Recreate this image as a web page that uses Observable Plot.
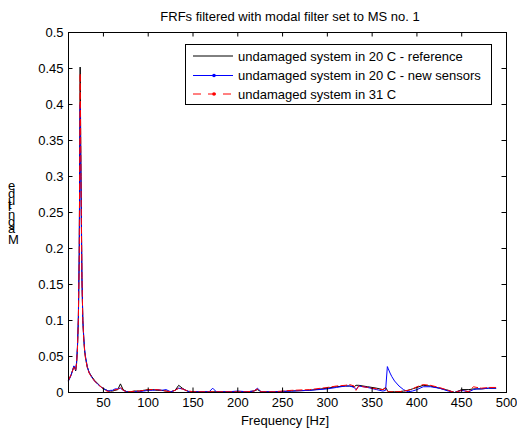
<!DOCTYPE html>
<html>
<head>
<meta charset="utf-8">
<script src="https://cdn.jsdelivr.net/npm/d3@7"></script>
<script src="https://cdn.jsdelivr.net/npm/@observablehq/plot@0.6"></script>
<style>
  html, body { margin: 0; padding: 0; background: #fff; }
  #chart svg { display: block; }
</style>
</head>
<body>
<div id="chart"></div>
<script>
const title = "FRFs filtered with modal filter set to MS no. 1";
const xLabel = "Frequency [Hz]";
const yLabel = "Magnitude";
const seriesNames = [
  "undamaged system in 20 C - reference",
  "undamaged system in 20 C - new sensors",
  "undamaged system in 31 C"
];
const seriesColors = ["#000000", "#0000ff", "#ff0000"];
const xTicks = [50, 100, 150, 200, 250, 300, 350, 400, 450, 500];
const yTicks = [0, 0.05, 0.1, 0.15, 0.2, 0.25, 0.3, 0.35, 0.4, 0.45, 0.5];

const freq = [11, 14, 17, 18, 19, 20, 21, 22, 23, 24, 25, 26, 27, 28, 29, 30, 32, 34, 37, 40,
  44, 48, 52, 56, 58, 60, 63, 66, 69, 72, 76, 80, 85, 90, 95, 100, 105, 110, 115, 120,
  125, 130, 134, 138, 142, 146, 150, 160, 168, 172, 176, 190, 200, 210, 218, 222, 226, 240, 260, 280,
  300, 310, 320, 325, 330, 332, 335, 345, 355, 362, 365, 367, 368, 370, 372, 375, 380, 385, 390, 395,
  400, 407, 415, 425, 435, 442, 450, 458, 463, 467, 472, 480, 488];

const reference = [0.017, 0.025, 0.036, 0.034, 0.030, 0.040, 0.062, 0.100, 0.190, 0.452, 0.300, 0.160, 0.100, 0.075, 0.058, 0.048, 0.035, 0.028, 0.022, 0.017,
  0.012, 0.007, 0.004, 0.002, 0.002, 0.002, 0.003, 0.004, 0.012, 0.004, 0.001, 0.001, 0.002, 0.002, 0.003, 0.004, 0.004, 0.003, 0.003, 0.002,
  0.001, 0.003, 0.010, 0.006, 0.003, 0.001, 0.001, 0.001, 0.001, 0.001, 0.001, 0.001, 0.001, 0.001, 0.002, 0.004, 0.001, 0.001, 0.002, 0.003,
  0.006, 0.008, 0.009, 0.009, 0.008, 0.010, 0.010, 0.008, 0.006, 0.004, 0.007, 0.003, 0.001, 0.001, 0.001, 0.001, 0.001, 0.002, 0.003, 0.005,
  0.007, 0.010, 0.009, 0.006, 0.003, 0.000, 0.004, 0.004, 0.005, 0.005, 0.005, 0.006, 0.006];

const newSensors = [0.016, 0.024, 0.037, 0.035, 0.031, 0.042, 0.065, 0.105, 0.200, 0.400, 0.270, 0.160, 0.100, 0.078, 0.060, 0.050, 0.036, 0.028, 0.021, 0.016,
  0.011, 0.007, 0.004, 0.002, 0.003, 0.003, 0.005, 0.005, 0.006, 0.003, 0.001, 0.000, 0.001, 0.001, 0.002, 0.003, 0.003, 0.004, 0.003, 0.004,
  0.001, 0.003, 0.006, 0.005, 0.003, 0.001, 0.001, 0.001, 0.001, 0.006, 0.001, 0.001, 0.002, 0.001, 0.002, 0.006, 0.001, 0.001, 0.002, 0.003,
  0.005, 0.007, 0.009, 0.009, 0.007, 0.004, 0.009, 0.007, 0.004, 0.002, 0.003, 0.036, 0.033, 0.027, 0.022, 0.016, 0.009, 0.004, 0.001, 0.002,
  0.004, 0.008, 0.008, 0.006, 0.002, 0.000, 0.003, 0.001, 0.004, 0.005, 0.005, 0.006, 0.006];

const warm = [0.017, 0.025, 0.035, 0.033, 0.031, 0.040, 0.060, 0.100, 0.190, 0.443, 0.290, 0.160, 0.100, 0.075, 0.058, 0.047, 0.035, 0.027, 0.021, 0.016,
  0.011, 0.007, 0.003, 0.001, 0.000, 0.001, 0.004, 0.004, 0.008, 0.003, 0.001, 0.001, 0.002, 0.002, 0.003, 0.004, 0.004, 0.004, 0.003, 0.002,
  0.001, 0.003, 0.006, 0.005, 0.003, 0.002, 0.001, 0.001, 0.001, 0.001, 0.001, 0.001, 0.001, 0.001, 0.002, 0.005, 0.001, 0.001, 0.003, 0.004,
  0.007, 0.009, 0.010, 0.011, 0.009, 0.003, 0.009, 0.007, 0.005, 0.004, 0.006, 0.002, 0.001, 0.001, 0.001, 0.001, 0.001, 0.002, 0.003, 0.005,
  0.008, 0.011, 0.010, 0.007, 0.003, 0.000, 0.003, 0.001, 0.008, 0.007, 0.006, 0.007, 0.007];

const mk = (vals) => freq.map((f, i) => ({f, v: vals[i]}));
const dRef = mk(reference), dNew = mk(newSensors), dWarm = mk(warm);

const W = 517, H = 430;
const FS = 13;
const tickLenY = 4.5 / 720;
const tickLenX = 4.5 / (438 / 489);

const svg = Plot.plot({
  width: W,
  height: H,
  marginLeft: 68,
  marginRight: 11,
  marginTop: 32,
  marginBottom: 38,
  style: {fontFamily: "'Liberation Sans', Arial, sans-serif", fontSize: FS + "px", background: "#fff", color: "#000"},
  x: {domain: [11, 500], label: null},
  y: {domain: [0, 0.5], label: null},
  marks: [
    Plot.line(dRef, {x: "f", y: "v", stroke: seriesColors[0], strokeWidth: 1}),
    Plot.line(dNew, {x: "f", y: "v", stroke: seriesColors[1], strokeWidth: 1}),
    Plot.line(dWarm, {x: "f", y: "v", stroke: seriesColors[2], strokeWidth: 1, strokeDasharray: "6,3"}),
    Plot.ruleX(xTicks, {x: d => d, y1: 0, y2: tickLenY, stroke: "#000"}),
    Plot.ruleX(xTicks, {x: d => d, y1: 0.5, y2: 0.5 - tickLenY, stroke: "#000"}),
    Plot.ruleY(yTicks, {y: d => d, x1: 11, x2: 11 + tickLenX, stroke: "#000"}),
    Plot.ruleY(yTicks, {y: d => d, x1: 500, x2: 500 - tickLenX, stroke: "#000"}),
    Plot.frame({stroke: "#000"}),
    Plot.axisX(xTicks, {tickSize: 0, tickPadding: 5, label: null, fontSize: FS}),
    Plot.axisY(yTicks, {tickSize: 0, tickPadding: 5, label: null, fontSize: FS, tickFormat: d => String(+d.toFixed(2))})
  ]
});

const s = d3.select(svg);
s.append("text").attr("x", 290).attr("y", 21).attr("text-anchor", "middle")
  .attr("font-size", FS).attr("fill", "#000").text(title);
s.append("text").attr("x", 285).attr("y", 425).attr("text-anchor", "middle")
  .attr("font-size", FS).attr("fill", "#000").text(xLabel);
// y label: baseline runs upward, each glyph drawn upright (as in the reference)
s.append("text")
  .attr("transform", "translate(8,244) rotate(-90)")
  .attr("rotate", 90)
  .attr("text-anchor", "start")
  .attr("font-size", FS).attr("fill", "#000").text(yLabel);

// legend
const lg = s.append("g");
lg.append("rect").attr("x", 185.5).attr("y", 44.5).attr("width", 306).attr("height", 60)
  .attr("fill", "#fff").attr("stroke", "#000");
const rowsY = [56, 75.5, 94];
seriesNames.forEach((name, i) => {
  const y = rowsY[i];
  const ln = lg.append("line").attr("x1", 193).attr("x2", 233).attr("y1", y).attr("y2", y)
    .attr("stroke", seriesColors[i]).attr("stroke-width", 1);
  if (i === 2) ln.attr("stroke-dasharray", "8,7");
  if (i > 0) lg.append("circle").attr("cx", 214).attr("cy", y).attr("r", 1.8).attr("fill", seriesColors[i]);
  lg.append("text").attr("x", 238).attr("y", y + 4.5).attr("text-anchor", "start")
    .attr("font-size", FS).attr("fill", "#000").text(name);
});

document.getElementById("chart").appendChild(svg);
</script>
</body>
</html>
